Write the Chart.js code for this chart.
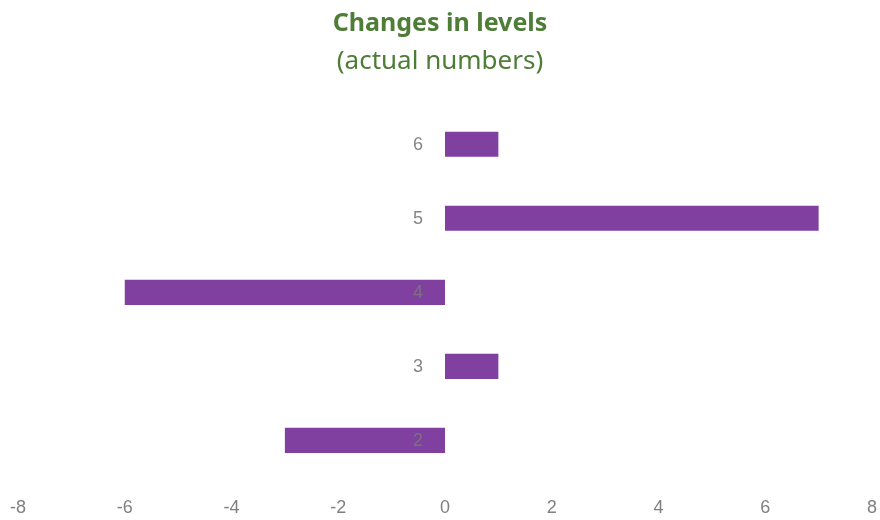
<!DOCTYPE html>
<html>
<head>
<meta charset="utf-8">
<script src="https://cdn.jsdelivr.net/npm/chart.js@4"></script>
<style>
  html, body { margin: 0; padding: 0; background: #fff; }
  #wrap { width: 880px; height: 520px; }
</style>
</head>
<body>
<div id="wrap"><canvas id="chart"></canvas></div>
<script>
const levels = ['6', '5', '4', '3', '2'];
const changes = [1, 7, -6, 1, -3];
const xTicks = [-8, -6, -4, -2, 0, 2, 4, 6, 8];

const barColor = 'rgb(128, 64, 160)';
const green = '#4e7d38';
const gray = '#808080';

// category labels sit just left of the zero line, on top of the bars
const levelLabels = {
    id: 'levelLabels',
    afterDatasetsDraw(chart) {
        const {ctx, scales: {x, y}} = chart;
        const x0 = x.getPixelForValue(0);
        ctx.save();
        ctx.fillStyle = 'rgba(120, 120, 120, 0.9)';
        ctx.font = '18px "Liberation Sans"';
        ctx.textAlign = 'right';
        ctx.textBaseline = 'middle';
        levels.forEach((lab, i) => {
            ctx.fillText(lab, x0 - 22, y.getPixelForValue(i) + 1);
        });
        ctx.restore();
    }
};

new Chart(document.querySelector('#chart').getContext('2d'), {
    type: 'bar',
    data: {
        labels: levels,
        datasets: [{
            data: changes,
            backgroundColor: barColor,
            categoryPercentage: 1,
            barPercentage: 0.34
        }]
    },
    plugins: [levelLabels],
    options: {
        indexAxis: 'y',
        responsive: true,
        maintainAspectRatio: false,
        animation: false,
        layout: { padding: { left: 0, right: 0, bottom: -11 } },
        plugins: {
            legend: { display: false },
            tooltip: { enabled: false },
            title: {
                display: true,
                text: 'Changes in levels',
                color: green,
                font: { family: 'Noto Sans', size: 25, weight: 'bold' },
                padding: { top: 9, bottom: 7 }
            },
            subtitle: {
                display: true,
                text: '(actual numbers)',
                color: green,
                font: { family: 'Noto Sans', size: 26 },
                padding: { top: 0, bottom: 30 }
            }
        },
        scales: {
            x: {
                min: -8,
                max: 8,
                afterBuildTicks: scale => { scale.ticks = xTicks.map(v => ({ value: v })); },
                afterFit: scale => { scale.paddingLeft = 18; scale.paddingRight = 8; },
                grid: { display: false },
                border: { display: false },
                ticks: {
                    color: gray,
                    font: { family: 'Liberation Sans', size: 18 },
                    padding: 12,
                    maxRotation: 0
                }
            },
            y: {
                display: false
            }
        }
    }
});
</script>
</body>
</html>
